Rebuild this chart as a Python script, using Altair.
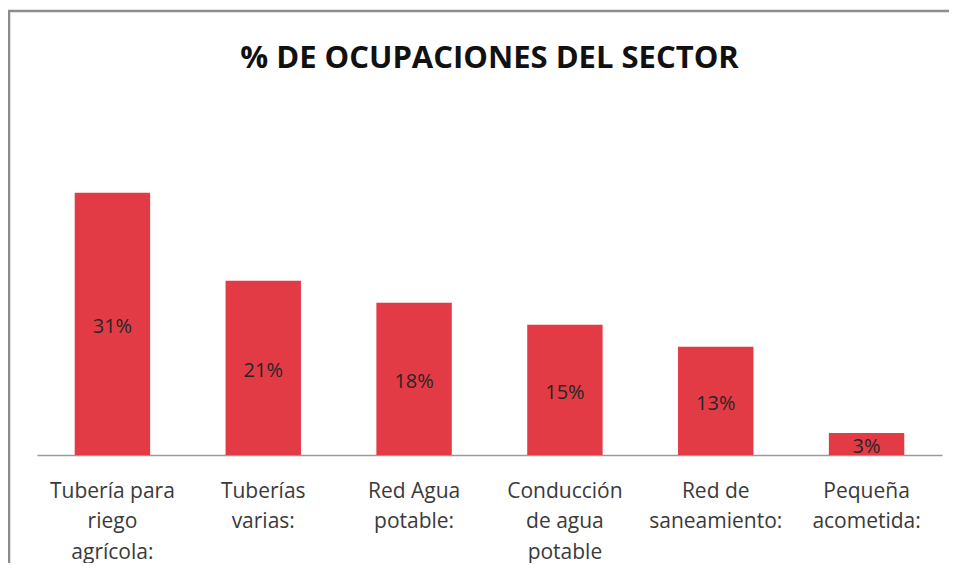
import altair as alt
import pandas as pd

categories = [
    "Tubería para\nriego\nagrícola:",
    "Tuberías\nvarias:",
    "Red Agua\npotable:",
    "Conducción\nde agua\npotable",
    "Red de\nsaneamiento:",
    "Pequeña\nacometida:",
]
shares = [0.31, 0.206, 0.18, 0.154, 0.128, 0.026]

df = pd.DataFrame({"cat": categories, "share": shares})

W, H = 905, 296
PAD = {"left": 29, "top": 151, "right": 7, "bottom": 108}

base = alt.Chart(df)

bars = base.mark_bar(color="#E23B45").encode(
    x=alt.X("cat:N", sort=categories, title=None,
            scale=alt.Scale(paddingInner=0.5, paddingOuter=0.25),
            axis=alt.Axis(labelAngle=0, labelExpr="split(datum.value, '\\n')",
                          labelFont="Open Sans", labelFontSize=21, labelColor="#3a3a3a",
                          labelLineHeight=30.5, labelPadding=25, labelBaseline="top",
                          ticks=False, domainColor="#9a9a9a", domainWidth=1.5,
                          labelLimit=300)),
    y=alt.Y("share:Q", scale=alt.Scale(domain=[0, 0.35], nice=False), axis=None),
)

labels = base.transform_calculate(mid="datum.share / 2").mark_text(
    font="Open Sans", fontSize=20, color="#262626", baseline="middle", dy=3
).encode(
    x=alt.X("cat:N", sort=categories),
    y=alt.Y("mid:Q"),
    text=alt.Text("share:Q", format=".0%"),
)

frame_df = pd.DataFrame({"a": [0]})
frame = alt.Chart(frame_df).mark_rect(
    fill=None, stroke="#8c8c8c", strokeWidth=2.5
).encode(
    x=alt.value(-28), x2=alt.value(1100), y=alt.value(-148), y2=alt.value(700)
)

chart = alt.layer(frame, bars, labels).properties(
    width=W, height=H,
    autosize=alt.AutoSizeParams(type="none"),
    padding=PAD,
    title=alt.TitleParams("% DE OCUPACIONES DEL SECTOR", font="Open Sans",
                          fontSize=31, fontWeight="bold", color="#111111",
                          anchor="middle", baseline="alphabetic", offset=-89),
).configure_view(stroke=None)

chart.save("out.html", embed_options={"renderer": "svg", "actions": False})
